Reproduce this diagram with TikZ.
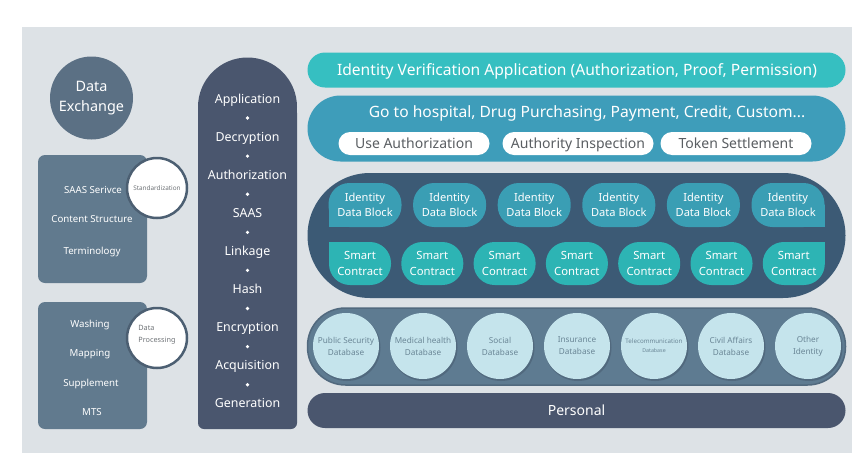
\documentclass[tikz,border=0pt]{standalone}
\usepackage{fontspec}
\setmainfont{Noto Sans}
\usetikzlibrary{shapes.misc}
\definecolor{bgc}{HTML}{DDE2E6}
\definecolor{slatec}{HTML}{5B7084}
\definecolor{boxc}{HTML}{617A8E}
\definecolor{ringc}{HTML}{4C5F72}
\definecolor{midc}{HTML}{4A566E}
\definecolor{tealc}{HTML}{36BFC1}
\definecolor{bluec}{HTML}{3E9DBA}
\definecolor{darkc}{HTML}{3C5A75}
\definecolor{blockc}{HTML}{3A9EB4}
\definecolor{smartc}{HTML}{2DB4B4}
\definecolor{dbc}{HTML}{5E7B91}
\definecolor{dbedge}{HTML}{51697E}
\definecolor{dbcirc}{HTML}{C5E4EC}
\definecolor{dbtext}{HTML}{6A8696}
\definecolor{pilltext}{HTML}{5A5E62}
\definecolor{circtext}{HTML}{707478}
\begin{document}
\begin{tikzpicture}[x=1pt,y=-1pt,
  lefttxt/.style={inner sep=0pt, text=white, font=\fontsize{9.7}{11}\selectfont, text height=0.62em, text depth=0pt},
  midtxt/.style={inner sep=0pt, text=white, font=\fontsize{12.4}{14}\selectfont, text height=0.62em, text depth=0pt},
  middot/.style={circle, fill=white, inner sep=0pt, minimum size=3.6pt},
  whitecirc/.style={circle, fill=white, draw=ringc, line width=2.5pt, minimum size=60pt, inner sep=0pt},
  bar/.style={inner sep=0pt, minimum width=538pt},
  pill/.style={fill=white, rounded corners=11.5pt, minimum width=151pt, minimum height=23pt, inner sep=0pt},
  pilltxt/.style={inner sep=0pt, text=pilltext, font=\fontsize{14}{16}\selectfont, text height=0.62em, text depth=0pt},
  idblock/.style={fill=blockc, rounded corners=21pt, minimum width=73pt, minimum height=44pt, inner sep=0pt, text=white, align=center, font=\fontsize{11.1}{15}\selectfont},
  smartblock/.style={fill=smartc, rounded corners=21pt, minimum width=62pt, minimum height=43pt, inner sep=0pt, text=white, align=center, font=\fontsize{11.3}{16}\selectfont},
  dbcircle/.style={circle, fill=dbcirc, minimum size=66pt, inner sep=0pt, text=dbtext, align=center, font=\fontsize{8.2}{12}\selectfont},
  dbshadow/.style={circle, fill=dbedge, minimum size=67pt, inner sep=0pt}
]
\useasboundingbox (0,0) rectangle (863,469);
\fill[white] (0,0) rectangle (863,469);
\fill[bgc] (22,27) rectangle (852,453);

% ---------- left column ----------
\node[circle, fill=slatec, minimum size=83pt, inner sep=0pt, text=white, align=center,
      font=\fontsize{14.4}{20}\selectfont] (dx) at (91.5,98) {Data\\Exchange};

\node[fill=boxc, rounded corners=7pt, minimum width=109pt, minimum height=128pt, inner sep=0pt] (stdbox) at (92.5,219) {};
\node[lefttxt] (s1) at (93,190.5) {SAAS Serivce};
\node[lefttxt] (s2) at (92,219.5) {Content Structure};
\node[lefttxt] (s3) at (92,251.5) {Terminology};
\node[whitecirc, text=circtext, font=\fontsize{6.4}{7}\selectfont] (std) at (157,188) {Standardization};

\node[fill=boxc, rounded corners=7pt, minimum width=109pt, minimum height=127pt, inner sep=0pt] (dpbox) at (92.5,365.5) {};
\node[lefttxt] (d1) at (90,324.5) {Washing};
\node[lefttxt] (d2) at (90,353.5) {Mapping};
\node[lefttxt] (d3) at (91,383.5) {Supplement};
\node[lefttxt] (d4) at (92,412.5) {MTS};
\node[whitecirc] (dp) at (157,338) {};
\node[inner sep=0pt, text=circtext, align=left, font=\fontsize{7.3}{12}\selectfont] (dptxt) at (157,335) {Data\\Processing};

% ---------- middle column ----------
\fill[midc] (247.5,107) circle (49.5pt);
\node[fill=midc, rounded corners=6pt, minimum width=99pt, minimum height=322pt, inner sep=0pt] (mid) at (247.5,268) {};
\fill[midc] (198,106) rectangle (297,130);
\foreach \w [count=\i from 0] in {Application,Decryption,Authorization,SAAS,Linkage,Hash,Encryption,Acquisition,Generation}{
  \node[midtxt] (m\i) at (247.5,{100+38.1*\i}) {\w};
}
\foreach \i in {0,...,7}{
  \node[middot] (md\i) at (247.5,{118+38.1*\i}) {};
}

% ---------- right column ----------
\node[bar, fill=tealc, rounded corners=17.5pt, minimum height=35pt] (app) at (576.5,70) {};
\node[inner sep=0pt, text=white, font=\fontsize{15.6}{18}\selectfont, text height=0.62em, text depth=0pt] (apptxt) at (577,72.5) {Identity Verification Application (Authorization, Proof, Permission)};

\node[bar, fill=bluec, rounded corners=33pt, minimum height=66pt] (scene) at (576.5,128.5) {};
\node[inner sep=0pt, text=white, font=\fontsize{15.6}{18}\selectfont, text height=0.62em, text depth=0pt] (scenetxt) at (587,114.5) {Go to hospital, Drug Purchasing, Payment, Credit, Custom...};
\node[pill] (p1) at (414,143.5) {};
\node[pill] (p2) at (578,143.5) {};
\node[pill] (p3) at (736,143.5) {};
\node[pilltxt] (p1t) at (414,145) {Use Authorization};
\node[pilltxt] (p2t) at (578,145) {Authority Inspection};
\node[pilltxt] (p3t) at (736,145) {Token Settlement};

\node[bar, fill=darkc, rounded corners=62.5pt, minimum height=125pt] (chain) at (576.5,235.5) {};
\fill[blockc] (329,205) rectangle (351,227);
\fill[blockc] (802.5,205) rectangle (824.5,227);
\foreach \i in {0,...,5}{
  \node[idblock] (idb\i) at ({365+84.6*\i},205) {Identity\\Data Block};
}
\fill[smartc] (329,242) rectangle (350,263.5);
\fill[smartc] (803.8,242) rectangle (824.8,263.5);
\foreach \i in {0,...,6}{
  \node[smartblock] (sc\i) at ({360+72.3*\i},263.5) {Smart\\Contract};
}

\node[bar, fill=dbc, draw=dbedge, line width=1.5pt, rounded corners=38pt, minimum height=77pt] (dbbar) at (576.5,346.5) {};
\foreach \i in {0,...,6}{
  \node[dbshadow] (dbs\i) at ({347+77*\i},347.5) {};
}
\node[dbcircle] (db0) at (346,346) {Public Security\\Database};
\node[dbcircle] (db1) at (423,346) {Medical health\\Database};
\node[dbcircle] (db2) at (500,346) {Social\\Database};
\node[dbcircle] (db3) at (577,346) {Insurance\\Database};
\node[dbcircle, font=\fontsize{6.2}{9}\selectfont] (db4) at (654,346) {Telecommunication\\{\fontsize{5.3}{9}\selectfont Database}};
\node[dbcircle] (db5) at (731,346) {Civil Affairs\\Database};
\node[dbcircle] (db6) at (808,346) {Other\\Identity};

\node[bar, fill=midc, rounded corners=17.5pt, minimum height=35pt] (personal) at (576.5,410.5) {};
\node[inner sep=0pt, text=white, font=\fontsize{14}{16}\selectfont, text height=0.62em, text depth=0pt] (perstxt) at (576.5,412.5) {Personal};
\end{tikzpicture}
\end{document}
